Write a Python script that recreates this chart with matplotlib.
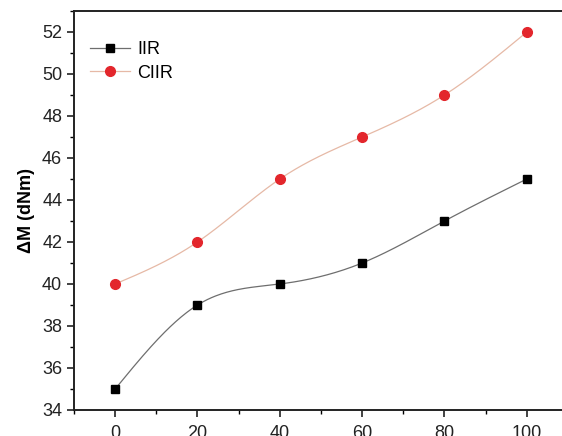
import numpy as np
import matplotlib
matplotlib.use("Agg")
import matplotlib.pyplot as plt
from matplotlib.ticker import MultipleLocator

plt.rcParams['font.family'] = ['Liberation Sans', 'DejaVu Sans']

content = [0, 20, 40, 60, 80, 100]
iir = [35, 39, 40, 41, 43, 45]
ciir = [40, 42, 45, 47, 49, 52]
series_names = ["IIR", "CIIR"]


def natural_spline(x, y, n=300):
    x = np.asarray(x, float)
    y = np.asarray(y, float)
    k = len(x)
    h = np.diff(x)
    A = np.zeros((k, k))
    b = np.zeros(k)
    A[0, 0] = A[-1, -1] = 1
    for i in range(1, k - 1):
        A[i, i - 1] = h[i - 1]
        A[i, i] = 2 * (h[i - 1] + h[i])
        A[i, i + 1] = h[i]
        b[i] = 6 * ((y[i + 1] - y[i]) / h[i] - (y[i] - y[i - 1]) / h[i - 1])
    M = np.linalg.solve(A, b)
    xs = np.linspace(x[0], x[-1], n)
    idx = np.clip(np.searchsorted(x, xs) - 1, 0, k - 2)
    x0, x1 = x[idx], x[idx + 1]
    hh = x1 - x0
    t0 = x1 - xs
    t1 = xs - x0
    ys = (M[idx] * t0**3 / (6 * hh) + M[idx + 1] * t1**3 / (6 * hh)
          + (y[idx] / hh - M[idx] * hh / 6) * t0
          + (y[idx + 1] / hh - M[idx + 1] * hh / 6) * t1)
    return xs, ys


fig = plt.figure(figsize=(5.62, 4.36), dpi=100)
ax = fig.add_axes([74 / 562, 26 / 436, 494 / 562, 399 / 436])

xs, ys = natural_spline(content, iir)
ax.plot(xs, ys, color='#6e6e6e', lw=0.9, zorder=2)
xs, ys = natural_spline(content, ciir)
ax.plot(xs, ys, color='#e6b9a6', lw=0.9, zorder=2)

ax.plot(content, iir, ls='none', marker='s', ms=6.4, color='black', zorder=3)
ax.plot(content, ciir, ls='none', marker='o', ms=7.0, color='#e3262c', zorder=3)

# legend handles
h1, = ax.plot([], [], color='#6e6e6e', lw=0.9, marker='s', ms=6.4,
              mfc='black', mec='black')
h2, = ax.plot([], [], color='#e6b9a6', lw=0.9, marker='o', ms=7.0,
              mfc='#e3262c', mec='#e3262c')
ax.legend([h1, h2], series_names, loc='upper left', bbox_to_anchor=(0.0, 0.965),
          frameon=False, fontsize=13, handlelength=2.2, handletextpad=0.4,
          labelspacing=0.35)

ax.set_xlim(-10, 110)
ax.set_ylim(34, 53)
ax.xaxis.set_major_locator(MultipleLocator(20))
ax.xaxis.set_minor_locator(MultipleLocator(10))
ax.yaxis.set_major_locator(MultipleLocator(2))
ax.yaxis.set_minor_locator(MultipleLocator(1))

ax.tick_params(which='major', direction='out', length=5, width=1.2,
               labelsize=13, colors='#222222')
ax.tick_params(axis='x', which='major', pad=6)
ax.tick_params(which='minor', direction='out', length=3, width=1.0)
ax.tick_params(top=False, right=False)
for s in ax.spines.values():
    s.set_linewidth(1.4)
    s.set_color('#222222')
ax.spines['right'].set_visible(False)

ax.set_ylabel('ΔM (dNm)', fontsize=13, fontweight='bold', labelpad=5)

fig.savefig('out.png', dpi=100)
